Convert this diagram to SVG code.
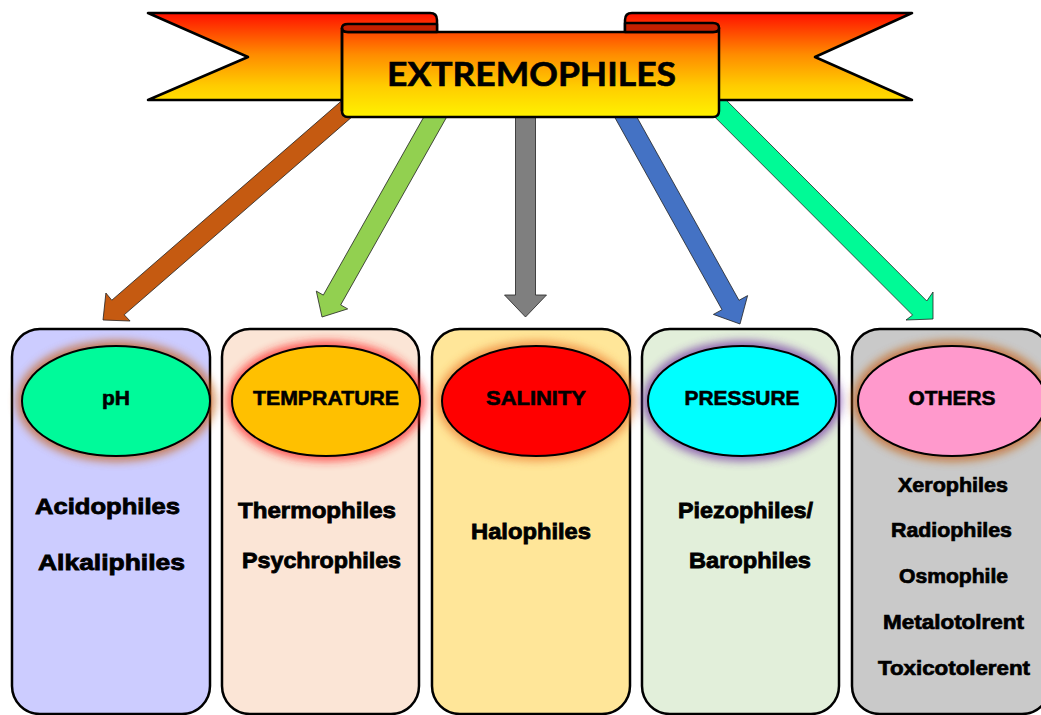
<svg xmlns="http://www.w3.org/2000/svg" width="1041" height="715" viewBox="0 0 1041 715">
<defs>
<linearGradient id="ribbon" gradientUnits="userSpaceOnUse" x1="0" y1="13" x2="0" y2="117">
<stop offset="0" stop-color="#FF1000"/>
<stop offset="0.4" stop-color="#FF8C00"/>
<stop offset="0.7" stop-color="#FFCC00"/>
<stop offset="1" stop-color="#FFF200"/>
</linearGradient>
<filter id="glow" x="-30%" y="-30%" width="160%" height="160%">
<feGaussianBlur stdDeviation="5"/>
</filter>
<style>
.rib{fill:url(#ribbon);stroke:#000;stroke-width:2.5;stroke-linejoin:round}
.curl{fill:#C42000;stroke:#000;stroke-width:2.5;stroke-linejoin:round}
.arrow{stroke:#222;stroke-width:0.8;stroke-linejoin:miter}
.box{stroke:#000;stroke-width:2.5}
.ell{stroke:#000;stroke-width:2}
.halo{filter:url(#glow);opacity:0.75}
.lbl{font-family:"Liberation Sans",Arial,sans-serif;font-weight:bold;font-size:21px;fill:#000;text-anchor:middle;stroke:#000;stroke-width:0.6}
.item{font-family:"Liberation Sans",Arial,sans-serif;font-weight:bold;font-size:22px;fill:#000;text-anchor:middle;stroke:#000;stroke-width:0.8}
.item2{font-family:"Liberation Sans",Arial,sans-serif;font-weight:bold;font-size:20px;fill:#000;text-anchor:middle;stroke:#000;stroke-width:0.7}
.title{font-family:Lato,"Open Sans",sans-serif;font-weight:bold;font-size:33px;fill:#000;text-anchor:middle;stroke:#000;stroke-width:0.6}
</style>
</defs>
<rect width="1041" height="715" fill="#fff"/>

<g id="connectors">
<polygon class="arrow" fill="#C55A11" points="350.8,92.8 363.2,107.2 124.2,314.8 130.1,321.0 103,320 105.9,293.0 111.8,300.2"/>
<polygon class="arrow" fill="#92D050" points="433.3,100.1 450.7,109.9 340.7,304.9 347.7,308.9 322,317 316.3,291.1 323.3,295.1"/>
<polygon class="arrow" fill="#7F7F7F" points="515.5,105 535.5,105 535.5,295 546.5,295 525.5,317 504.5,295 515.5,295"/>
<polygon class="arrow" fill="#4472C4" points="610.5,109.7 627.5,100.3 739.0,300.3 747.6,295.6 740,324 713.4,314.4 722.0,309.7"/>
<polygon class="arrow" fill="#00FA96" points="719.0,92.9 704.9,107.1 912.6,315.1 906,320 933,319 933,292 926.8,301.0"/>
</g>

<g id="node-title">
<path class="rib" d="M148,13 H430 Q437,13 437,20 V100 H148 L248,57 Z"/>
<path class="rib" d="M912,13 H632 Q625,13 625,20 V100 H912 L815,57 Z"/>
<path class="rib" d="M342,28 Q342,32 348,32 H713 Q719,32 719,28 V111 Q719,117 713,117 H348 Q342,117 342,111 Z"/>
<path class="curl" d="M342,28 Q342,24 348,24 H437 V32 H348 Q342,32 342,28 Z"/>
<path class="curl" d="M719,28 Q719,23 713,23 H625 V32 H713 Q719,32 719,28 Z"/>
<path d="M342,28 V111" stroke="#000" stroke-width="2.5" fill="none"/>
<text class="title" x="531.5" y="86" textLength="289" lengthAdjust="spacingAndGlyphs">EXTREMOPHILES</text>
</g>

<g id="node-ph">
<rect class="box" x="12" y="329" width="198" height="385" rx="28" fill="#CCCCFF"/>
<ellipse class="halo" cx="116" cy="401" rx="99" ry="60" fill="#C55A11"/>
<ellipse class="ell" cx="116" cy="401" rx="94" ry="55" fill="#00FA9A"/>
<text class="lbl" x="116" y="405">pH</text>
<text class="item" x="107.5" y="514" textLength="145" lengthAdjust="spacingAndGlyphs">Acidophiles</text>
<text class="item" x="111.5" y="570" textLength="147" lengthAdjust="spacingAndGlyphs">Alkaliphiles</text>
</g>

<g id="node-temperature">
<rect class="box" x="222" y="329" width="197" height="385" rx="28" fill="#FBE5D6"/>
<ellipse class="halo" cx="326" cy="401" rx="99" ry="60" fill="#FF2020"/>
<ellipse class="ell" cx="326" cy="401" rx="94" ry="55" fill="#FFC000"/>
<text class="lbl" x="326" y="405" textLength="146" lengthAdjust="spacingAndGlyphs">TEMPRATURE</text>
<text class="item" x="317" y="518" textLength="158" lengthAdjust="spacingAndGlyphs">Thermophiles</text>
<text class="item" x="321.5" y="568" textLength="159" lengthAdjust="spacingAndGlyphs">Psychrophiles</text>
</g>

<g id="node-salinity">
<rect class="box" x="432" y="329" width="198" height="385" rx="28" fill="#FFE699"/>
<ellipse class="halo" cx="536" cy="401" rx="99" ry="60" fill="#ED7D31"/>
<ellipse class="ell" cx="536" cy="401" rx="94" ry="55" fill="#FF0000"/>
<text class="lbl" x="536" y="405" textLength="100" lengthAdjust="spacingAndGlyphs">SALINITY</text>
<text class="item" x="531" y="539" textLength="120" lengthAdjust="spacingAndGlyphs">Halophiles</text>
</g>

<g id="node-pressure">
<rect class="box" x="642" y="329" width="197" height="385" rx="28" fill="#E2EFDA"/>
<ellipse class="halo" cx="742" cy="401" rx="99" ry="60" fill="#7030A0"/>
<ellipse class="ell" cx="742" cy="401" rx="94" ry="55" fill="#00FFFF"/>
<text class="lbl" x="742" y="405" textLength="115" lengthAdjust="spacingAndGlyphs">PRESSURE</text>
<text class="item" x="745.5" y="518" textLength="135" lengthAdjust="spacingAndGlyphs">Piezophiles/</text>
<text class="item" x="750" y="568" textLength="122" lengthAdjust="spacingAndGlyphs">Barophiles</text>
</g>

<g id="node-others">
<rect class="box" x="852" y="329" width="198" height="385" rx="28" fill="#C9C9C9"/>
<ellipse class="halo" cx="952" cy="401" rx="99" ry="60" fill="#C55A11"/>
<ellipse class="ell" cx="952" cy="401" rx="94" ry="55" fill="#FF99CC"/>
<text class="lbl" x="952" y="405" textLength="87" lengthAdjust="spacingAndGlyphs">OTHERS</text>
<text class="item2" x="953" y="492" textLength="110" lengthAdjust="spacingAndGlyphs">Xerophiles</text>
<text class="item2" x="951.5" y="537" textLength="121" lengthAdjust="spacingAndGlyphs">Radiophiles</text>
<text class="item2" x="953.5" y="583" textLength="109" lengthAdjust="spacingAndGlyphs">Osmophile</text>
<text class="item2" x="953.5" y="629" textLength="141" lengthAdjust="spacingAndGlyphs">Metalotolrent</text>
<text class="item2" x="954" y="675" textLength="152" lengthAdjust="spacingAndGlyphs">Toxicotolerent</text>
</g>
</svg>
